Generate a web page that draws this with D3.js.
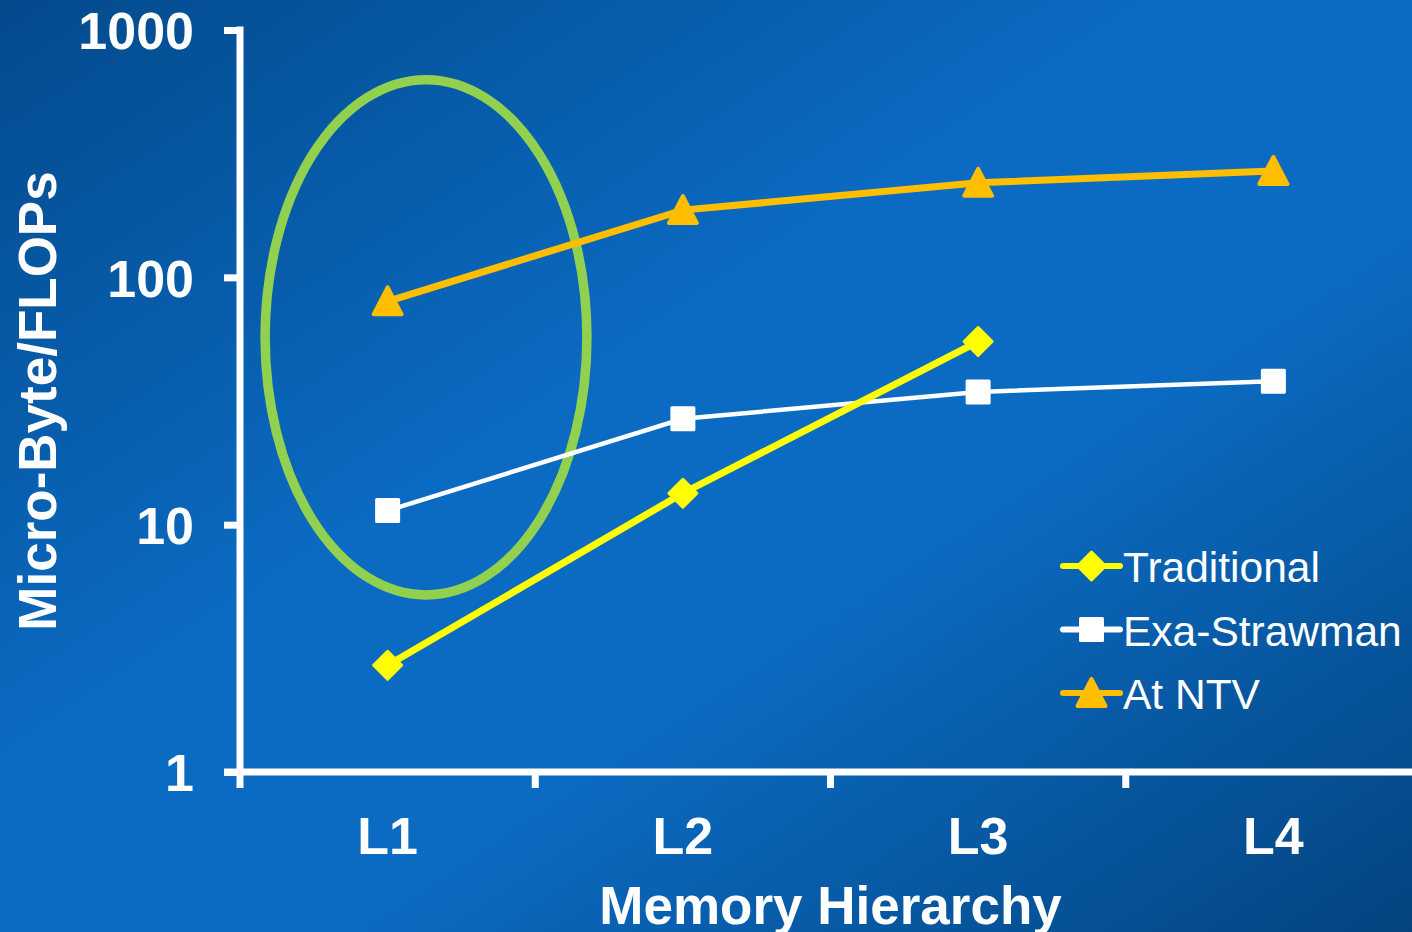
<!DOCTYPE html>
<html>
<head>
<meta charset="utf-8">
<script src="https://cdn.jsdelivr.net/npm/d3@7"></script>
<style>
  html, body { margin: 0; padding: 0; overflow: hidden; }
  body { width: 1412px; height: 932px; }
  text { font-family: "Liberation Sans", Arial, sans-serif; fill: #fff; }
</style>
</head>
<body>
<script>
// chart values
const categories = ["L1", "L2", "L3", "L4"];
const traditional = [2.7, 13.4, 55];
const exaStrawman = [11.4, 26.8, 34.4, 38];
const atNTV = [80, 187, 241, 269];
const yTicks = [1, 10, 100, 1000];
const seriesNames = ["Traditional", "Exa-Strawman", "At NTV"];
// ellipse annotation around L1 (value units)
const ellipseTop = 630;
const ellipseBottom = 5.2;

const w = 1412;
const h = 932;

const svg = d3.select("body").append("svg")
  .attr("width", w)
  .attr("height", h);

// background gradient
const defs = svg.append("defs");
const grad = defs.append("linearGradient")
  .attr("id", "bg")
  .attr("x1", "0").attr("y1", "0")
  .attr("x2", "1").attr("y2", "1");
grad.append("stop").attr("offset", "0").attr("stop-color", "#034a8c");
grad.append("stop").attr("offset", "0.42").attr("stop-color", "#0b6bc3");
grad.append("stop").attr("offset", "0.62").attr("stop-color", "#0b6bc2");
grad.append("stop").attr("offset", "1").attr("stop-color", "#03447f");
svg.append("rect").attr("width", w).attr("height", h).attr("fill", "url(#bg)");

const x = d3.scaleBand()
  .domain(categories)
  .range([240, 1421])
  .paddingInner(0).paddingOuter(0);
const bw = x.bandwidth();
const cx = (c) => x(c) + bw / 2;

const y = d3.scaleLog()
  .domain([1, 1000])
  .range([772, 30]);

// y axis
const yAxis = d3.axisLeft(y)
  .tickValues(yTicks)
  .tickFormat(d3.format("d"))
  .tickSize(16)
  .tickSizeOuter(0)
  .tickPadding(30);

const gy = svg.append("g")
  .attr("transform", "translate(240,0)")
  .call(yAxis);
gy.select(".domain").remove();
gy.selectAll(".tick line").attr("stroke", "#fff").attr("stroke-width", 7);
gy.selectAll(".tick text")
  .attr("fill", "#fff")
  .style("font-size", "52px")
  .style("font-weight", "bold")
  .attr("dy", "0.36em");

gy.append("line")
  .attr("x1", 0).attr("x2", 0)
  .attr("y1", y(1000) - 3.5).attr("y2", y(1))
  .attr("stroke", "#fff").attr("stroke-width", 7);

// x axis
const gx = svg.append("g")
  .attr("transform", "translate(0," + y(1) + ")");
gx.append("line")
  .attr("x1", 224).attr("x2", w)
  .attr("stroke", "#fff").attr("stroke-width", 7);
gx.selectAll(".bt")
  .data(categories)
  .enter().append("line")
  .attr("class", "bt")
  .attr("x1", (d) => x(d)).attr("x2", (d) => x(d))
  .attr("y1", 0).attr("y2", 16)
  .attr("stroke", "#fff").attr("stroke-width", 7);
gx.selectAll(".xl")
  .data(categories)
  .enter().append("text")
  .attr("class", "xl")
  .attr("x", (d) => cx(d))
  .attr("y", 82)
  .attr("text-anchor", "middle")
  .style("font-size", "52px")
  .style("font-weight", "bold")
  .text((d) => d);

// axis titles
svg.append("text")
  .attr("x", (240 + 1421) / 2)
  .attr("y", 924)
  .attr("text-anchor", "middle")
  .style("font-size", "53px")
  .style("font-weight", "bold")
  .text("Memory Hierarchy");

svg.append("text")
  .attr("transform", "translate(56," + (y(1) + y(1000)) / 2 + ") rotate(-90)")
  .attr("text-anchor", "middle")
  .style("font-size", "53px")
  .style("font-weight", "bold")
  .text("Micro-Byte/FLOPs");

// ellipse annotation
const eTop = y(ellipseTop), eBot = y(ellipseBottom);
svg.append("ellipse")
  .attr("cx", cx("L1") + bw * 0.13)
  .attr("cy", (eTop + eBot) / 2)
  .attr("rx", bw * 0.545)
  .attr("ry", (eBot - eTop) / 2)
  .attr("fill", "none")
  .attr("stroke", "#92d050")
  .attr("stroke-width", 9.5);

// marker shapes
const diamondPath = "M0,-14L14,0L0,14L-14,0Z";
const squarePath = "M-11,-11L11,-11L11,11L-11,11Z";
const trianglePath = "M0,-14L14,13L-14,13Z";

const series = [
  { name: seriesNames[0], values: traditional, color: "#ffff00", width: 7, path: diamondPath, sw: 3 },
  { name: seriesNames[1], values: exaStrawman, color: "#ffffff", width: 4.5, path: squarePath, sw: 3 },
  { name: seriesNames[2], values: atNTV, color: "#ffbf00", width: 7, path: trianglePath, sw: 4 }
];

const line = d3.line()
  .x((d, i) => cx(categories[i]))
  .y((d) => y(d));

// draw lines then markers (order: exa, traditional, ntv)
[series[1], series[0], series[2]].forEach(function(s) {
  svg.append("path")
    .datum(s.values)
    .attr("d", line)
    .attr("fill", "none")
    .attr("stroke", s.color)
    .attr("stroke-width", s.width);
  svg.selectAll(null)
    .data(s.values)
    .enter().append("path")
    .attr("d", s.path)
    .attr("transform", (d, i) => "translate(" + cx(categories[i]) + "," + y(d) + ")")
    .attr("fill", s.color)
    .attr("stroke", s.color)
    .attr("stroke-width", s.sw)
    .attr("stroke-linejoin", "round");
});

// legend
const legend = svg.append("g").attr("transform", "translate(1063,566)");
series.forEach(function(s, i) {
  const g = legend.append("g").attr("transform", "translate(0," + i * 63.5 + ")");
  g.append("line")
    .attr("x1", 0).attr("x2", 57)
    .attr("stroke", s.color)
    .attr("stroke-width", 6)
    .attr("stroke-linecap", "round");
  g.append("path")
    .attr("d", s.path)
    .attr("transform", "translate(28.5,0)")
    .attr("fill", s.color)
    .attr("stroke", s.color)
    .attr("stroke-width", s.sw)
    .attr("stroke-linejoin", "round");
  g.append("text")
    .attr("x", 60)
    .attr("y", 16)
    .style("font-size", "42.5px")
    .text(s.name);
});
</script>
</body>
</html>
